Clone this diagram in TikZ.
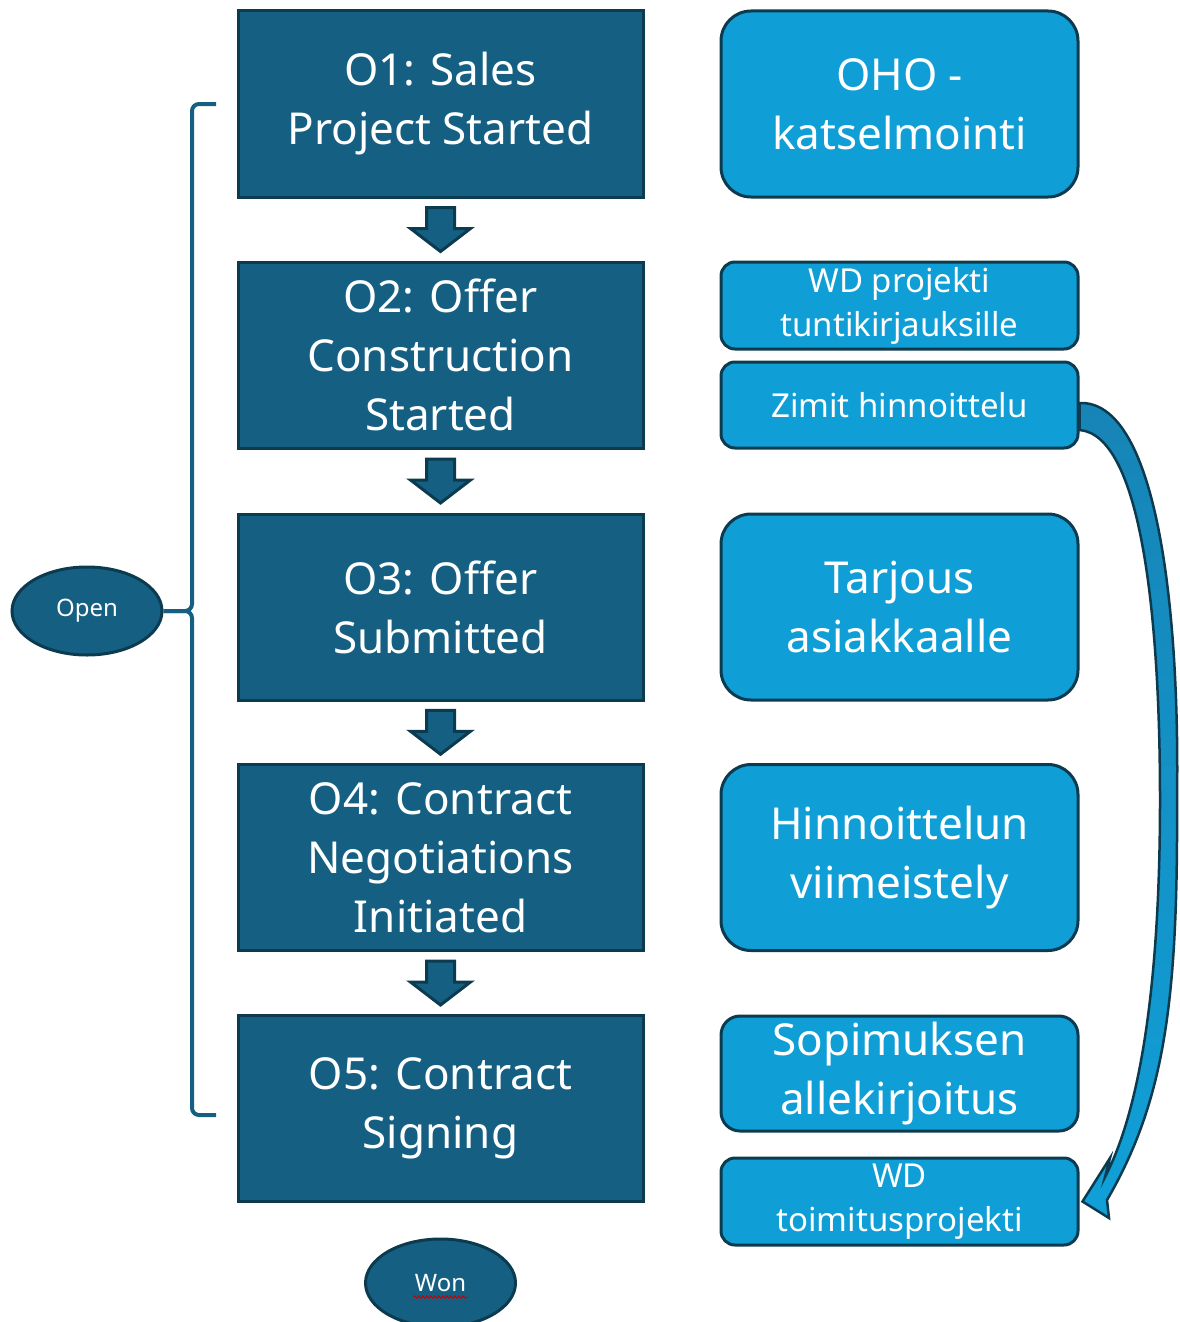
\documentclass[tikz,border=0pt]{standalone}
\usepackage{fontspec}
\setmainfont{Noto Sans}
\usetikzlibrary{calc,decorations.pathmorphing,shapes.geometric}
\definecolor{dk}{HTML}{156082}
\definecolor{lt}{HTML}{0F9ED5}
\definecolor{bord}{HTML}{0C3B50}
\definecolor{arrtop}{HTML}{1784B6}
\definecolor{arrbot}{HTML}{10A0D8}
\tikzset{
  stage/.style={draw=bord, fill=dk, line width=3pt, minimum width=405pt, minimum height=186pt,
    inner sep=0pt, text=white, align=center, font=\fontsize{44}{59}\selectfont},
  task/.style={draw=bord, fill=lt, line width=3pt, minimum width=357pt,
    inner sep=0pt, text=white, align=center},
  bigtask/.style={task, font=\fontsize{44}{59}\selectfont},
  smalltask/.style={task, minimum height=87pt, rounded corners=14pt, font=\fontsize{33}{44}\selectfont},
  state/.style={ellipse, draw=bord, fill=dk, line width=3pt, minimum width=150pt, minimum height=88pt,
    inner sep=0pt, text=white, font=\fontsize{24}{28}\selectfont},
  blockarrow/.style={draw=bord, fill=dk, line width=3pt, line join=miter},
  brace/.style={draw=dk, line width=4pt, rounded corners=7pt}
}
\newcommand\flowarrow[2]{%
  \path ($(#1.south)!0.5!(#2.north)$) coordinate (m);
  \draw[blockarrow] ($(m)+(-14,-22)$) -- ($(m)+(14,-22)$) -- ($(m)+(14,-1)$) -- ($(m)+(30,-1)$)
    -- ($(m)+(0,22)$) -- ($(m)+(-30,-1)$) -- ($(m)+(-14,-1)$) -- cycle;
}
\begin{document}
\begin{tikzpicture}[x=1pt,y=-1pt]
\useasboundingbox (0,0) rectangle (1179,1322);

% sales stages
\node[stage] (o1) at (440.5,104)   {O1: Sales\\Project Started};
\node[stage] (o2) at (440.5,355)   {O2: Offer\\Construction\\Started};
\node[stage] (o3) at (440.5,607)   {O3: Offer\\Submitted};
\node[stage] (o4) at (440.5,857.5) {O4: Contract\\Negotiations\\Initiated};
\node[stage] (o5) at (440.5,1108.5){O5: Contract\\Signing};

\flowarrow{o1}{o2}
\flowarrow{o2}{o3}
\flowarrow{o3}{o4}
\flowarrow{o4}{o5}

% tasks per stage
\node[bigtask, minimum height=186pt, rounded corners=30pt] (oho) at (899.5,104) {OHO -\\katselmointi};
\node[smalltask] (wdp) at (899.5,305.5) {WD projekti\\tuntikirjauksille};
\node[smalltask, minimum height=86pt] (zim) at (899.5,405) {Zimit hinnoittelu};
\node[bigtask, minimum height=186pt, rounded corners=30pt] (tar) at (899.5,607) {Tarjous\\asiakkaalle};
\node[bigtask, minimum height=186pt, rounded corners=30pt] (hin) at (899.5,857.5) {Hinnoittelun\\viimeistely};
\node[bigtask, minimum height=115pt, rounded corners=19pt] (sop) at (899.5,1073.5) {Sopimuksen\\allekirjoitus};
\node[smalltask] (wdt) at (899.5,1201.5) {WD\\toimitusprojekti};

% curved block arrow from pricing to delivery project
\path (zim.east) coordinate (zs) (wdt.east) coordinate (wt);
\draw[bord, line width=2.5pt, line join=miter, top color=arrtop, bottom color=arrbot]
  ($(zs)+(0,-2)$) .. controls (1155,400) and (1180,600) .. (1177,800)
  .. controls (1178,1000) and (1165,1100) .. (1107,1200)
  -- (1109,1218) -- ($(wt)+(3,0)$) -- (1110,1158) -- (1105,1177)
  .. controls (1145,1100) and (1160,960) .. (1160,800)
  .. controls (1160,610) and (1140,435) .. ($(zs)+(0,25)$) -- cycle;

% opportunity states
\node[state] (open) at (87,611) {Open};
\node[state] (won) at (440.5,1283) {Won};
\draw[red!80!black, line width=1pt, decorate, decoration={snake, amplitude=1.2pt, segment length=4pt}]
  ($(won.center)+(-27,14)$) -- ($(won.center)+(27,14)$);

% brace grouping the open stages
\coordinate (bt) at (216,104);
\coordinate (bb) at (216,1115);
\draw[brace] (bt) -- (192,104) -- (192,611) -- (open.east);
\draw[brace] (open.east) -- (192,611) -- (192,1115) -- (bb);
\end{tikzpicture}
\end{document}
